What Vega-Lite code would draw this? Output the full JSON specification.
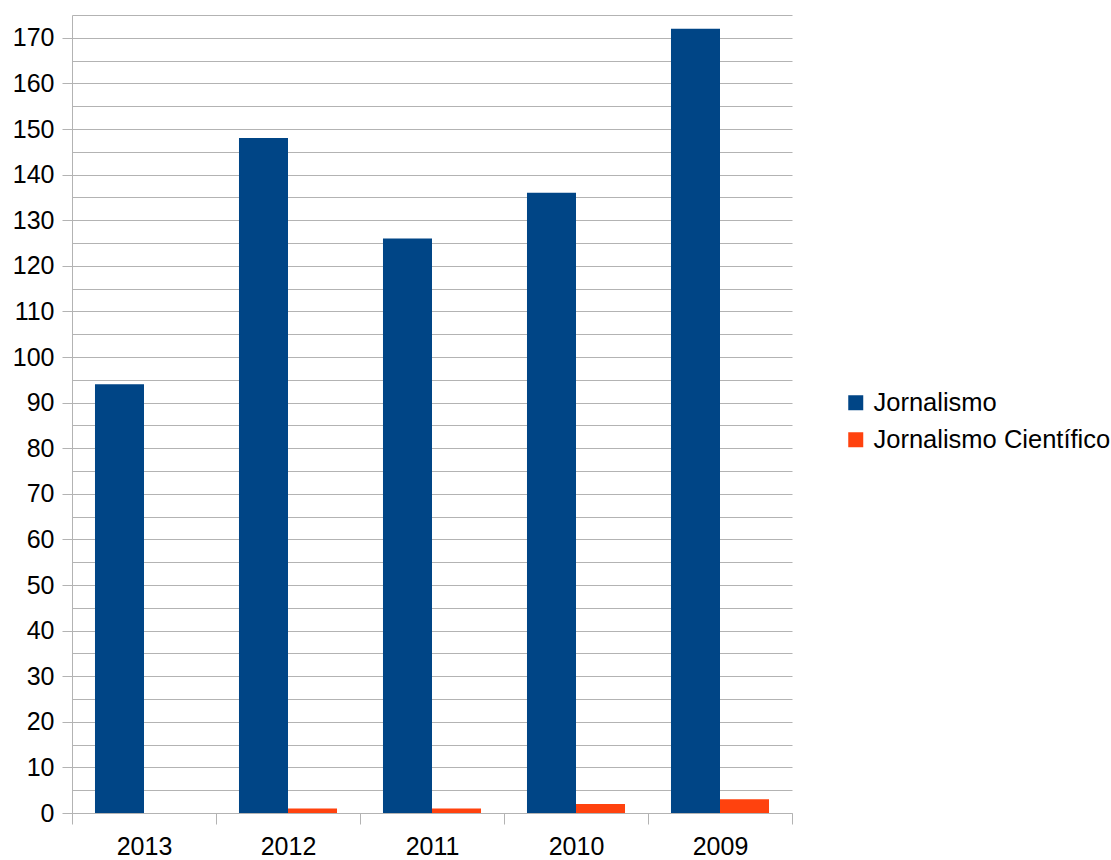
{
  "$schema": "https://vega.github.io/schema/vega-lite/v6.json",
  "width": 720,
  "height": 798,
  "autosize": "none",
  "padding": {"left": 72, "top": 15, "right": 319, "bottom": 47},
  "background": "white",
  "config": {
    "font": "Liberation Sans",
    "view": {"stroke": null},
    "axis": {"labelColor": "black", "labelFont": "Liberation Sans", "domainColor": "#b3b3b3", "tickColor": "#b3b3b3", "gridColor": "#b3b3b3", "gridOpacity": 1}
  },
  "data": {
    "values": [
      {"ano": "2013", "serie": "Jornalismo", "valor": 94},
      {"ano": "2013", "serie": "Jornalismo Científico", "valor": 0},
      {"ano": "2012", "serie": "Jornalismo", "valor": 148},
      {"ano": "2012", "serie": "Jornalismo Científico", "valor": 1},
      {"ano": "2011", "serie": "Jornalismo", "valor": 126},
      {"ano": "2011", "serie": "Jornalismo Científico", "valor": 1},
      {"ano": "2010", "serie": "Jornalismo", "valor": 136},
      {"ano": "2010", "serie": "Jornalismo Científico", "valor": 2},
      {"ano": "2009", "serie": "Jornalismo", "valor": 172},
      {"ano": "2009", "serie": "Jornalismo Científico", "valor": 3}
    ]
  },
  "mark": {"type": "bar"},
  "encoding": {
    "x": {
      "field": "ano", "type": "nominal", "sort": ["2013", "2012", "2011", "2010", "2009"],
      "scale": {"paddingInner": 0, "paddingOuter": 0},
      "axis": {"title": null, "labelAngle": 0, "labelFontSize": 25, "labelPadding": 10, "tickBand": "extent", "tickSize": 11, "grid": false}
    },
    "xOffset": {"field": "serie", "type": "nominal", "scale": {"paddingInner": 0, "paddingOuter": 0.469}},
    "y": {
      "field": "valor", "type": "quantitative",
      "scale": {"domain": [0, 175], "nice": false},
      "axis": {"title": null, "values": [0,5,10,15,20,25,30,35,40,45,50,55,60,65,70,75,80,85,90,95,100,105,110,115,120,125,130,135,140,145,150,155,160,165,170,175],
        "labelExpr": "datum.value % 10 === 0 ? datum.label : ''",
        "tickOpacity": {"condition": {"test": "datum.value % 10 === 0", "value": 1}, "value": 0},
        "labelFontSize": 25, "tickSize": 10, "labelPadding": 8, "grid": true}
    },
    "color": {
      "field": "serie", "type": "nominal",
      "scale": {"domain": ["Jornalismo", "Jornalismo Científico"], "range": ["#004586", "#ff420e"]},
      "legend": {"title": null, "orient": "none", "legendX": 771, "legendY": 375, "symbolType": "square", "symbolSize": 225, "symbolStrokeWidth": 0, "symbolOpacity": 1, "labelFontSize": 25.5, "labelColor": "black", "labelLimit": 400, "rowPadding": 10, "labelOffset": 5}
    }
  }
}
